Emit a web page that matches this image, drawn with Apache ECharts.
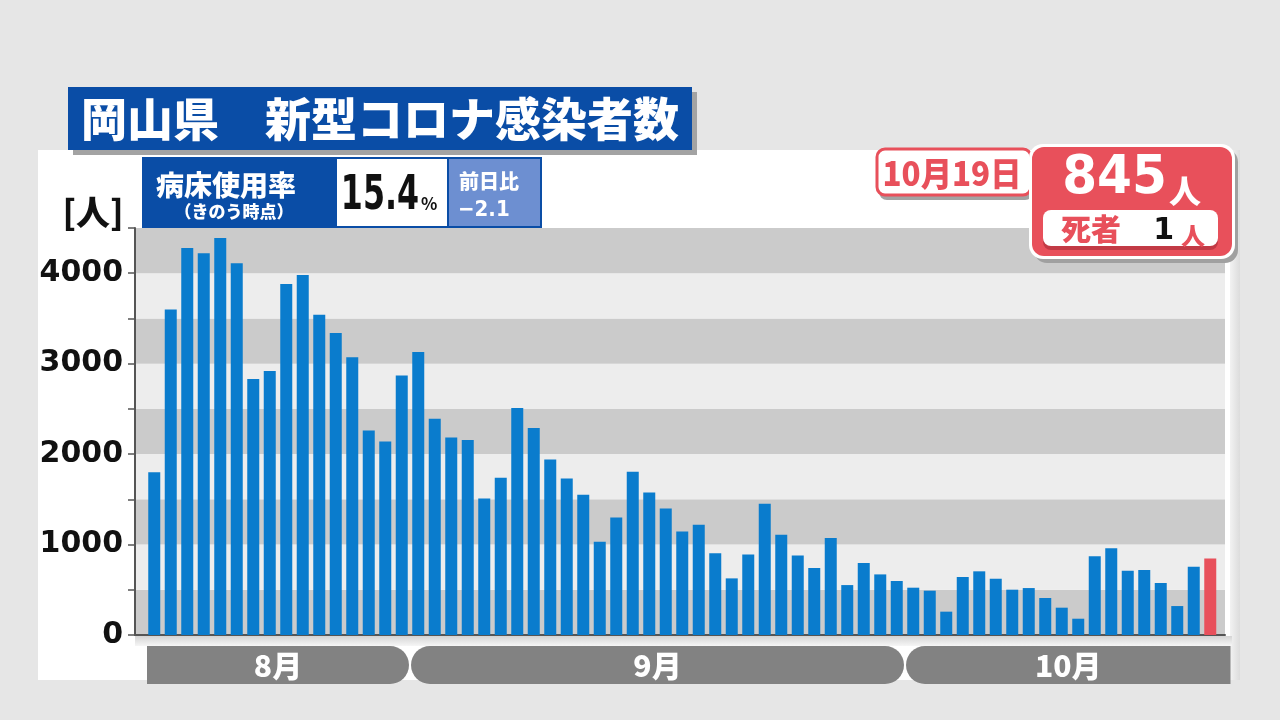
<!DOCTYPE html>
<html><head><meta charset="utf-8">
<script src="https://cdn.jsdelivr.net/npm/echarts@6/dist/echarts.min.js"></script>
<style>html,body{margin:0;padding:0;background:#e6e6e6}#c{width:1280px;height:720px}</style>
</head><body><div id="c"></div>
<script>
const dates = [
 '8/16','8/17','8/18','8/19','8/20','8/21','8/22','8/23','8/24','8/25','8/26','8/27','8/28','8/29','8/30','8/31',
 '9/1','9/2','9/3','9/4','9/5','9/6','9/7','9/8','9/9','9/10','9/11','9/12','9/13','9/14','9/15',
 '9/16','9/17','9/18','9/19','9/20','9/21','9/22','9/23','9/24','9/25','9/26','9/27','9/28','9/29','9/30',
 '10/1','10/2','10/3','10/4','10/5','10/6','10/7','10/8','10/9','10/10',
 '10/11','10/12','10/13','10/14','10/15','10/16','10/17','10/18','10/19'
];
const cases = [
 1800,3600,4280,4220,4390,4110,2830,2920,3880,3980,3540,3340,3070,2260,2140,2870,
 3130,2390,2185,2155,1510,1740,2510,2290,1940,1730,1550,1030,1300,1805,1575,
 1400,1145,1220,903,626,891,1451,1109,880,740,1072,552,796,670,597,
 523,490,258,641,704,622,501,519,409,302,
 180,870,958,711,718,575,320,755,845
];
const yTicks = [0,1000,2000,3000,4000];
const months = ['8月','9月','10月'];
const monthStart = [0,16,46];
const monthEnd = [15,45,64];
const titleText = '岡山県　新型コロナ感染者数';
const reportDate = '10月19日';
const todayCases = '845';
const deaths = '1';
const bedRate = '15.4';
const bedDiff = '−2.1';

const JP = '"Noto Sans CJK JP", "Noto Sans CJK SC", sans-serif';
const NUM = '"DejaVu Sans", sans-serif';
const BLUE = '#0a4da6';
const RED = '#e8505b';

const barData = cases.map((v, i) => i === cases.length - 1
  ? {value: v, itemStyle: {color: RED}} : v);

function txt(x, y, text, size, fill, family, align, weight, sx) {
  return {type: 'text', z: 100, x: x, y: y, scaleX: sx || 1,
    style: {x: 0, y: 0, text: text, fill: fill,
    fontSize: size, fontFamily: family, fontWeight: weight || 'bold',
    textAlign: align || 'center', textVerticalAlign: 'middle'}};
}

const graphics = [
  {type: 'rect', z: -10, shape: {x: 38, y: 150, width: 1202, height: 530}, style: {fill: '#ffffff'}},
  {type: 'rect', z: -9, shape: {x: 1230, y: 150, width: 10, height: 530},
    style: {fill: new echarts.graphic.LinearGradient(0, 0, 1, 0, [{offset: 0, color: '#f2f2f2'}, {offset: 1, color: '#dcdcdc'}])}},
  {type: 'rect', z: -9, shape: {x: 135, y: 636, width: 1097, height: 10},
    style: {fill: new echarts.graphic.LinearGradient(0, 0, 0, 1, [{offset: 0, color: '#d4d4d4'}, {offset: 1, color: '#f6f6f6'}])}},
  // title
  {type: 'rect', z: 90, shape: {x: 73, y: 92, width: 624, height: 63}, style: {fill: '#a3a3a3'}},
  {type: 'rect', z: 91, shape: {x: 68, y: 87, width: 624, height: 63}, style: {fill: BLUE}},
  txt(380, 119, titleText, 46, '#ffffff', JP, 'center', 900),
  // bed usage box
  {type: 'rect', z: 91, shape: {x: 142, y: 157, width: 400, height: 71}, style: {fill: BLUE}},
  {type: 'rect', z: 92, shape: {x: 337, y: 159, width: 110, height: 67}, style: {fill: '#ffffff'}},
  {type: 'rect', z: 92, shape: {x: 449, y: 159, width: 91, height: 67}, style: {fill: '#6d8fd1'}},
  txt(226, 185, '病床使用率', 28, '#ffffff', JP, 'center', 900),
  txt(234, 212, '（きのう時点）', 17, '#ffffff', JP, 'center', 900),
  txt(419, 197, bedRate, 48, '#111111', NUM, 'right', 'bold', 0.66),
  txt(421, 204, '%', 17, '#111111', JP, 'left'),
  txt(459, 181, '前日比', 20, '#ffffff', JP, 'left', 900),
  txt(458, 210, bedDiff, 22, '#ffffff', NUM, 'left', 'bold', 0.9),
  // unit
  txt(93, 212, '[人]', 34, '#111111', JP, 'center', 900),
  // date box
  {type: 'rect', z: 90, shape: {x: 879, y: 152, width: 154, height: 48, r: 8}, style: {fill: '#a3a3a3'}},
  {type: 'rect', z: 91, shape: {x: 877, y: 149, width: 154, height: 46, r: 8}, style: {fill: '#ffffff', stroke: RED, lineWidth: 3}},
  txt(952, 173, reportDate, 33, RED, JP, 'center', 900, 0.95),
  // case box
  {type: 'rect', z: 92, shape: {x: 1034, y: 149, width: 204, height: 114, r: 13}, style: {fill: '#a0a0a0'}},
  {type: 'rect', z: 93, shape: {x: 1029, y: 144, width: 206, height: 115, r: 14}, style: {fill: '#ffffff'}},
  {type: 'rect', z: 94, shape: {x: 1032, y: 147, width: 200, height: 109, r: 12}, style: {fill: RED}},
  {type: 'rect', z: 95, shape: {x: 1043, y: 212, width: 175, height: 38, r: 8}, style: {fill: '#c23a45'}},
  {type: 'rect', z: 96, shape: {x: 1043, y: 210, width: 175, height: 36, r: 8}, style: {fill: '#ffffff'}},
  txt(1167, 179, todayCases, 54, '#ffffff', NUM, 'right', 'bold', 0.93),
  txt(1169, 191, '人', 32, '#ffffff', JP, 'left', 900),
  txt(1091, 229, '死者', 30, RED, JP, 'center', 900),
  txt(1174, 231, deaths, 30, '#111111', NUM, 'right'),
  txt(1181, 236, '人', 24, RED, JP, 'left', 900)
];

const chart = echarts.init(document.getElementById('c'));
chart.setOption({
  animation: false,
  backgroundColor: '#e6e6e6',
  graphic: graphics,
  grid: [
    {left: 135, right: 55, top: 228, bottom: 85},
    {left: 146, right: 61.5, top: 228, bottom: 85},
    {left: 146, right: 61.5, top: 646, height: 38}
  ],
  xAxis: [
    {type: 'category', gridIndex: 0, data: dates, axisLabel: {show: false}, axisTick: {show: false},
      axisLine: {show: true, lineStyle: {color: '#555555', width: 2}}},
    {type: 'category', gridIndex: 1, data: dates, show: false},
    {type: 'category', gridIndex: 2, data: dates, show: false}
  ],
  yAxis: [
    {type: 'value', gridIndex: 0, min: 0, max: 4500, interval: 500,
      axisLine: {show: true, lineStyle: {color: '#555555', width: 2}},
      axisTick: {show: true, length: 7, lineStyle: {color: '#555555', width: 1.5}},
      splitLine: {show: false},
      splitArea: {show: true, areaStyle: {color: ['#cbcbcb', '#ededed']}},
      axisLabel: {margin: 12, color: '#111111', fontFamily: NUM, fontWeight: 'bold', fontSize: 30,
        formatter: v => yTicks.includes(v) ? String(v) : ''}},
    {type: 'value', gridIndex: 1, min: 0, max: 4500, show: false},
    {type: 'value', gridIndex: 2, min: 0, max: 1, show: false}
  ],
  series: [
    {type: 'bar', xAxisIndex: 1, yAxisIndex: 1, data: barData, barWidth: 12,
      itemStyle: {color: '#0a7ccd'}},
    {type: 'custom', xAxisIndex: 2, yAxisIndex: 2,
      data: months.map((m, i) => [monthStart[i], monthEnd[i]]),
      encode: {x: [0, 1]},
      renderItem: function (params, api) {
        const i = params.dataIndex;
        const cs = params.coordSys;
        const bw = api.size([1, 0])[0];
        const a = api.coord([api.value(0), 0])[0] - bw / 2 + 1;
        let b = api.coord([api.value(1), 0])[0] + bw / 2 - 1;
        if (i === months.length - 1) b = cs.x + cs.width + 12;
        const r = cs.height / 2;
        const rr = i === 0 ? [0, r, r, 0] : (i === months.length - 1 ? [r, 0, 0, r] : r);
        return {type: 'group', children: [
          {type: 'rect', shape: {x: a, y: cs.y, width: b - a, height: cs.height, r: rr}, style: {fill: '#828282'}},
          {type: 'text', style: {x: (a + b) / 2, y: cs.y + cs.height / 2 + 1, text: months[i], fill: '#ffffff',
            fontSize: 30, fontWeight: 900, fontFamily: JP, textAlign: 'center', textVerticalAlign: 'middle'}}
        ]};
      }
    }
  ]
});
</script></body></html>
